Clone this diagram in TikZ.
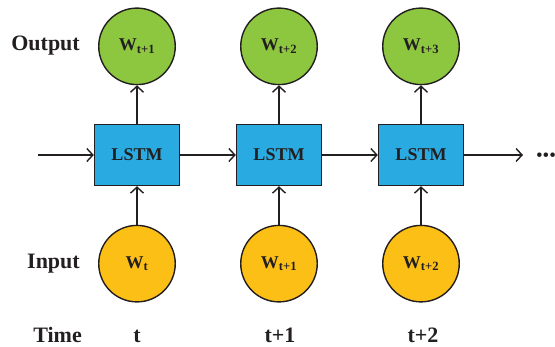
\documentclass[tikz,border=0pt]{standalone}
\usepackage{fontspec}
\setmainfont{Liberation Serif}
\usepackage{tikz}
\usetikzlibrary{arrows.meta,positioning}

\definecolor{cellblue}{HTML}{29ABE2}
\definecolor{outgreen}{HTML}{8DC63F}
\definecolor{inyellow}{HTML}{FBBF16}
\definecolor{inkgray}{HTML}{231F20}

\begin{document}
\begin{tikzpicture}[
    x=1pt, y=-1pt,
    node distance=55.6pt,
    every node/.style={text=inkgray},
    lstm/.style={rectangle, draw=inkgray, line width=1.4pt, fill=cellblue, minimum width=85pt, minimum height=61pt, inner sep=0pt, font=\fontsize{18}{20}\selectfont\bfseries},
    outnode/.style={circle, draw=inkgray, line width=1.4pt, fill=outgreen, minimum size=76.5pt, inner sep=0pt, font=\fontsize{18}{20}\selectfont\bfseries},
    innode/.style={outnode, fill=inyellow},
    rowlabel/.style={anchor=east, inner sep=0pt, font=\fontsize{22}{24}\selectfont\bfseries},
    timelabel/.style={anchor=base, inner sep=0pt, font=\fontsize{22}{24}\selectfont\bfseries},
    arrow/.style={-{Straight Barb[length=6pt,width=13pt]}, line width=1.4pt, draw=inkgray}
]
\useasboundingbox (0,0) rectangle (555,347);

% cells
\node[lstm] (lstm1) at (137,155) {LSTM};
\node[lstm, right=of lstm1] (lstm2) {LSTM};
\node[lstm, right=of lstm2] (lstm3) {LSTM};

% outputs
\node[outnode, above=38.5pt of lstm1] (out1) {W\textsubscript{t+1}};
\node[outnode, above=38.5pt of lstm2] (out2) {W\textsubscript{t+2}};
\node[outnode, above=38.5pt of lstm3] (out3) {W\textsubscript{t+3}};

% inputs
\node[innode, below=38.5pt of lstm1] (in1) {W\textsubscript{t}};
\node[innode, below=38.5pt of lstm2] (in2) {W\textsubscript{t+1}};
\node[innode, below=38.5pt of lstm3] (in3) {W\textsubscript{t+2}};

% row labels
\node[rowlabel] (lblout) at (80,46) {Output};
\node[rowlabel] (lblin) at (80,264) {Input};
\node[rowlabel, anchor=base east] (lbltime) at (82,343) {Time};
\node[timelabel] (time1) at (137,343) {t};
\node[timelabel] (time2) at (280,343) {t+1};
\node[timelabel] (time3) at (423,343) {t+2};

% ends of the chain
\coordinate (start) at (38,155);
\coordinate (finish) at (523,155);
\node[inner sep=0pt, font=\fontsize{19}{20}\selectfont] (dots) at (546,157.5) {•••};

\draw[arrow] (start) -- (lstm1);
\draw[arrow] (lstm1) -- (lstm2);
\draw[arrow] (lstm2) -- (lstm3);
\draw[arrow] (lstm3) -- (finish);

\draw[arrow] (in1) -- (lstm1);
\draw[arrow] (in2) -- (lstm2);
\draw[arrow] (in3) -- (lstm3);
\draw[arrow] (lstm1) -- (out1);
\draw[arrow] (lstm2) -- (out2);
\draw[arrow] (lstm3) -- (out3);
\end{tikzpicture}
\end{document}
